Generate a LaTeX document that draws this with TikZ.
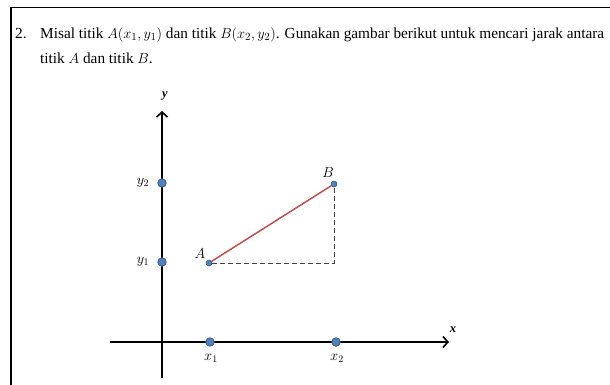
\documentclass[tikz,border=0pt]{standalone}
\usepackage{fontspec}
\setmainfont{Liberation Serif}
\usetikzlibrary{arrows.meta}
\definecolor{dotblue}{HTML}{4F81BD}
\definecolor{dotedge}{HTML}{385D8A}
\definecolor{segred}{HTML}{C0504D}
\definecolor{dashgray}{HTML}{404040}
\begin{document}
\begin{tikzpicture}[x=1pt,y=-1pt,
  bigdot/.style={circle,fill=dotblue,draw=dotedge,line width=0.8pt,inner sep=0pt,minimum size=8.5pt},
  smalldot/.style={circle,fill=dotblue,draw=dotedge,line width=0.6pt,inner sep=0pt,minimum size=6pt},
  axis/.style={line width=1.6pt,black},
  arrowaxis/.style={axis,-{Straight Barb[length=5pt,width=11pt,line width=1.6pt]}},
  lbl/.style={font=\fontsize{14}{16}\selectfont,inner sep=1pt},
  axlbl/.style={font=\fontsize{12.5}{15}\selectfont\bfseries\itshape,inner sep=1pt},
  bodytext/.style={anchor=base west,font=\fontsize{15.3}{18}\selectfont,inner sep=0pt},
  ]
\useasboundingbox (0,0) rectangle (610,385);
\clip (0,0) rectangle (610,385);
\fill[white] (0,0) rectangle (610,385);
% frame
\draw[line width=1.6pt] (11,392) -- (11,7.5) -- (620,7.5);
% text
\node[bodytext] (num) at (15,38.5) {2.};
\node[bodytext] (l1) at (40,38.5) {Misal titik $A(x_1,y_1)$ dan titik $B(x_2,y_2)$. Gunakan gambar berikut untuk mencari jarak antara};
\node[bodytext] (l2) at (40,63.5) {titik $A$ dan titik $B$.};
% axes
\coordinate (xs) at (110,342);
\coordinate (xe) at (449,342);
\coordinate (ys) at (162,378);
\coordinate (ye) at (162,111);
\draw[arrowaxis] (xs) -- (xe);
\draw[arrowaxis] (ys) -- (ye);
\node[axlbl] (ylab) at (165,96) {y};
\node[axlbl] (xlab) at (453,330) {x};
% axis points
\node[bigdot] (py2) at (162,183) {};
\node[bigdot] (py1) at (162,262) {};
\node[bigdot] (px1) at (210,342) {};
\node[bigdot] (px2) at (336,342) {};
\node[lbl] (ly2) at (143,183) {$y_2$};
\node[lbl] (ly1) at (143,262) {$y_1$};
\node[lbl] (lx1) at (211,358) {$x_1$};
\node[lbl] (lx2) at (337,358) {$x_2$};
% points A and B
\node[smalldot] (A) at (209,263) {};
\node[smalldot] (B) at (334,184) {};
\node[lbl] (lA) at (200,254) {$A$};
\node[lbl] (lB) at (328,173) {$B$};
\draw[segred,line width=1.5pt] (A) -- (B);
\draw[dashgray,line width=1pt,dash pattern=on 5pt off 3pt] (A) -- (A -| B) -- (B);
\end{tikzpicture}
\end{document}
